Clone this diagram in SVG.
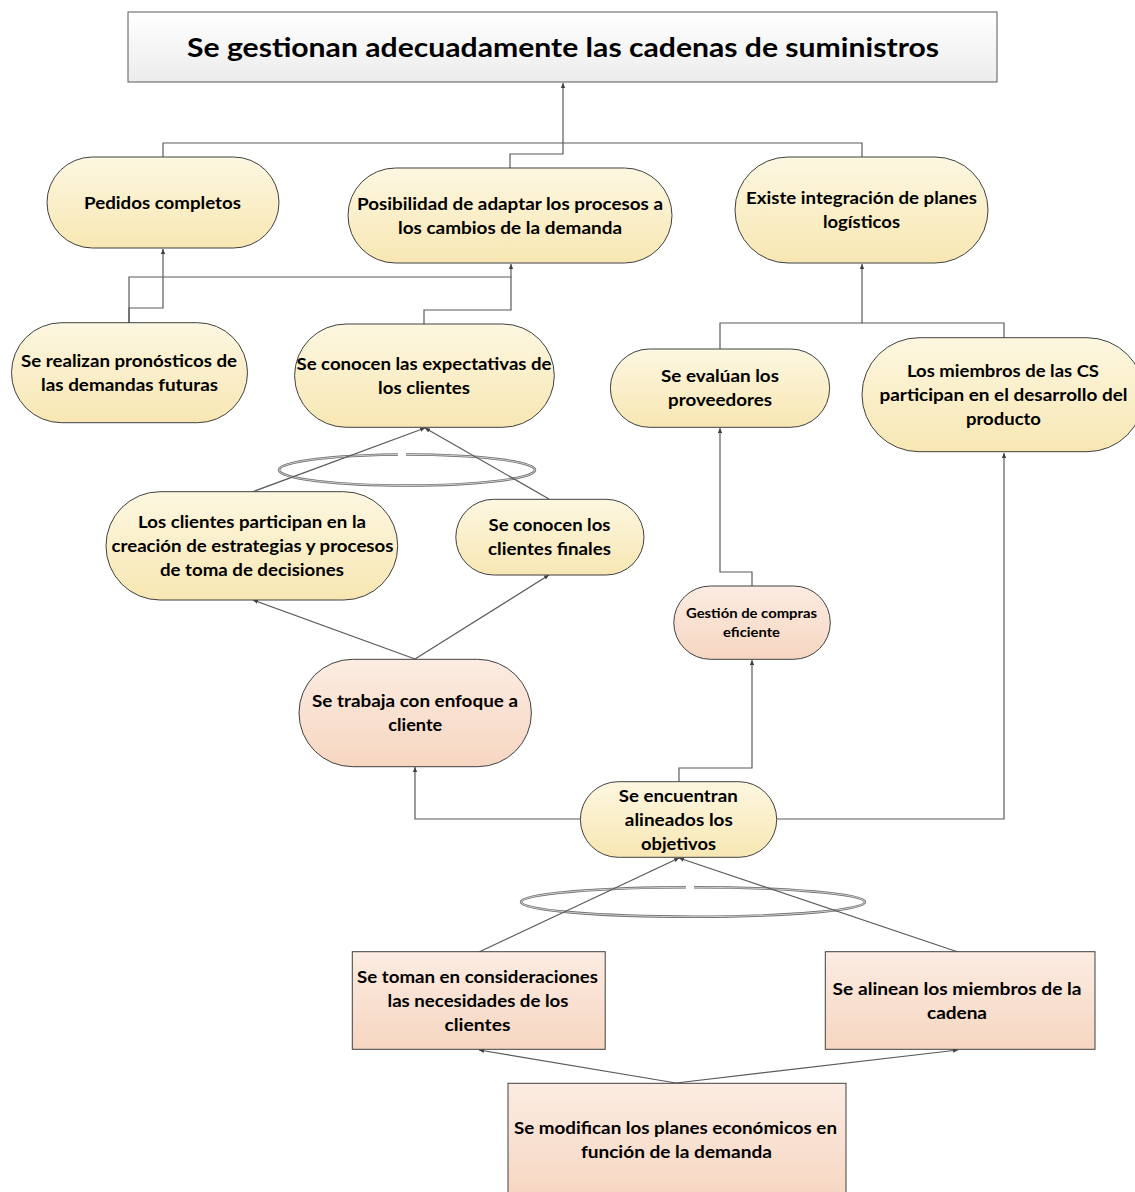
<svg xmlns="http://www.w3.org/2000/svg" width="1135" height="1192" viewBox="0 0 1135 1192">
<defs>
<linearGradient id="gy" x1="0" y1="0" x2="0" y2="1"><stop offset="0" stop-color="#fdf7e1"/><stop offset="1" stop-color="#f8e7b3"/></linearGradient>
<linearGradient id="gp" x1="0" y1="0" x2="0" y2="1"><stop offset="0" stop-color="#fcece2"/><stop offset="1" stop-color="#f6d6c1"/></linearGradient>
<linearGradient id="gg" x1="0" y1="0" x2="0" y2="1"><stop offset="0" stop-color="#ffffff"/><stop offset="1" stop-color="#ececec"/></linearGradient>
<marker id="ar" markerWidth="6" markerHeight="6" refX="5" refY="3" orient="auto" markerUnits="userSpaceOnUse"><path d="M0,0.8 L5,3 L0,5.2 Z" fill="#404040"/></marker>
<style>
.ny{fill:url(#gy);stroke:#404040;stroke-width:1}
.np{fill:url(#gp);stroke:#404040;stroke-width:1}
.ng{fill:url(#gg);stroke:#595959;stroke-width:1}
.t{font-family:Lato,"Liberation Sans",sans-serif;font-weight:bold;font-size:17px;fill:#000;text-anchor:middle}
.ts{font-size:13px}
.tt{font-size:27px}
.c{fill:none;stroke:#5a5a5a;stroke-width:1.2}
.ca{fill:none;stroke:#5a5a5a;stroke-width:1.2;marker-end:url(#ar)}
.el{fill:none;stroke:#6e6e6e;stroke-width:2.6}
.el2{fill:none;stroke:#e6e6e6;stroke-width:0.8}
</style>
</defs>
<g id="ellipses">
<ellipse class="el" cx="407" cy="470" rx="128" ry="15.5"/><ellipse class="el2" cx="407" cy="470" rx="128" ry="15.5"/>
<ellipse class="el" cx="693" cy="902" rx="172" ry="14.7"/><ellipse class="el2" cx="693" cy="902" rx="172" ry="14.7"/>
<rect x="398" y="452" width="8" height="4" fill="#fff"/>
<rect x="686" y="885" width="8" height="4" fill="#fff"/>
</g>
<g id="connectors">
<path class="ca" d="M510,168 V154 H563 V83"/>
<path class="c" d="M163,157 V143 H862 V157"/>
<path class="ca" d="M129,323 V308 H163 V249"/>
<path class="ca" d="M129,323 V277 H511 V264"/>
<path class="c" d="M424,324 V310 H511 V277"/>
<path class="ca" d="M720,349 V323 H862 V264"/>
<path class="c" d="M1004,338 V323 H862"/>
<path class="ca" d="M252,492 L425,428"/>
<path class="ca" d="M549,499 L425,428"/>
<path class="ca" d="M415,659 L253,600"/>
<path class="ca" d="M415,659 L549,575"/>
<path class="ca" d="M752,586 V572 H720 V428"/>
<path class="ca" d="M580,819 H415 V767"/>
<path class="ca" d="M679,782 V768 H752 V660"/>
<path class="ca" d="M777,819 H1004 V453"/>
<path class="ca" d="M479,952 L679,858"/>
<path class="ca" d="M958,952 L679,858"/>
<path class="ca" d="M676,1083 L479,1050"/>
<path class="ca" d="M676,1083 L958,1050"/>
</g>
<g id="n-title">
<rect class="ng" x="128" y="12" width="869" height="70"/>
<text class="t tt" x="563" y="57" textLength="752" lengthAdjust="spacingAndGlyphs">Se gestionan adecuadamente las cadenas de suministros</text>
</g>
<g id="n-pedidos">
<rect class="ny" x="47" y="157" width="232" height="91" rx="45.5"/>
<text class="t" x="162.5" y="209" textLength="157" lengthAdjust="spacingAndGlyphs">Pedidos completos</text>
</g>
<g id="n-posibilidad">
<rect class="ny" x="348" y="168" width="324" height="95" rx="47.5"/>
<text class="t" x="510" y="209.5" textLength="306" lengthAdjust="spacingAndGlyphs">Posibilidad de adaptar los procesos a</text>
<text class="t" x="510" y="233.5" textLength="224" lengthAdjust="spacingAndGlyphs">los cambios de la demanda</text>
</g>
<g id="n-existe">
<rect class="ny" x="735" y="157" width="253" height="106" rx="53"/>
<text class="t" x="861.5" y="204" textLength="231" lengthAdjust="spacingAndGlyphs">Existe integración de planes</text>
<text class="t" x="861.5" y="228" textLength="77" lengthAdjust="spacingAndGlyphs">logísticos</text>
</g>
<g id="n-realizan">
<rect class="ny" x="11.5" y="322.7" width="236" height="100" rx="50"/>
<text class="t" x="129" y="366.7" textLength="216" lengthAdjust="spacingAndGlyphs">Se realizan pronósticos de</text>
<text class="t" x="129.5" y="390.7" textLength="177" lengthAdjust="spacingAndGlyphs">las demandas futuras</text>
</g>
<g id="n-expectativas">
<rect class="ny" x="294.6" y="324" width="259.7" height="103.3" rx="51.6"/>
<text class="t" x="424" y="369.6" textLength="255" lengthAdjust="spacingAndGlyphs">Se conocen las expectativas de</text>
<text class="t" x="424" y="393.6" textLength="92" lengthAdjust="spacingAndGlyphs">los clientes</text>
</g>
<g id="n-evaluan">
<rect class="ny" x="610.4" y="349" width="219.2" height="78.3" rx="39"/>
<text class="t" x="720" y="382.2" textLength="118" lengthAdjust="spacingAndGlyphs">Se evalúan los</text>
<text class="t" x="720" y="406.2" textLength="104" lengthAdjust="spacingAndGlyphs">proveedores</text>
</g>
<g id="n-miembros">
<rect class="ny" x="862" y="337.7" width="282" height="114" rx="57"/>
<text class="t" x="1003" y="377" textLength="192" lengthAdjust="spacingAndGlyphs">Los miembros de las CS</text>
<text class="t" x="1003.5" y="401" textLength="248" lengthAdjust="spacingAndGlyphs">participan en el desarrollo del</text>
<text class="t" x="1003.5" y="425" textLength="75" lengthAdjust="spacingAndGlyphs">producto</text>
</g>
<g id="n-participan">
<rect class="ny" x="106" y="491.7" width="291.7" height="108.3" rx="54"/>
<text class="t" x="252" y="527.8" textLength="228" lengthAdjust="spacingAndGlyphs">Los clientes participan en la</text>
<text class="t" x="252.5" y="551.8" textLength="282" lengthAdjust="spacingAndGlyphs">creación de estrategias y procesos</text>
<text class="t" x="252" y="575.8" textLength="184" lengthAdjust="spacingAndGlyphs">de toma de decisiones</text>
</g>
<g id="n-finales">
<rect class="ny" x="455.8" y="499.3" width="188.2" height="75.7" rx="37.8"/>
<text class="t" x="549.5" y="531" textLength="122" lengthAdjust="spacingAndGlyphs">Se conocen los</text>
<text class="t" x="549.5" y="555" textLength="123" lengthAdjust="spacingAndGlyphs">clientes finales</text>
</g>
<g id="n-gestion">
<rect class="np" x="673.8" y="586" width="156.5" height="73.3" rx="36.6"/>
<text class="t ts" x="751.5" y="618" textLength="131" lengthAdjust="spacingAndGlyphs">Gestión de compras</text>
<text class="t ts" x="751.5" y="636.7" textLength="57" lengthAdjust="spacingAndGlyphs">eficiente</text>
</g>
<g id="n-trabaja">
<rect class="np" x="299" y="659.3" width="232.4" height="107.4" rx="53.7"/>
<text class="t" x="415" y="707" textLength="206" lengthAdjust="spacingAndGlyphs">Se trabaja con enfoque a</text>
<text class="t" x="415.3" y="731" textLength="54" lengthAdjust="spacingAndGlyphs">cliente</text>
</g>
<g id="n-encuentran">
<rect class="ny" x="580.4" y="781.7" width="196.3" height="75.6" rx="37.8"/>
<text class="t" x="678.2" y="801.5" textLength="119" lengthAdjust="spacingAndGlyphs">Se encuentran</text>
<text class="t" x="678.8" y="825.5" textLength="108" lengthAdjust="spacingAndGlyphs">alineados los</text>
<text class="t" x="678.5" y="849.5" textLength="75" lengthAdjust="spacingAndGlyphs">objetivos</text>
</g>
<g id="n-toman">
<rect class="np" x="352.3" y="951.7" width="252.9" height="97.6"/>
<text class="t" x="477.5" y="982.5" textLength="241" lengthAdjust="spacingAndGlyphs">Se toman en consideraciones</text>
<text class="t" x="478" y="1006.5" textLength="181" lengthAdjust="spacingAndGlyphs">las necesidades de los</text>
<text class="t" x="477.5" y="1030.5" textLength="66" lengthAdjust="spacingAndGlyphs">clientes</text>
</g>
<g id="n-alinean">
<rect class="np" x="825.3" y="951.7" width="269.7" height="97.6"/>
<text class="t" x="957.1" y="994.5" textLength="249" lengthAdjust="spacingAndGlyphs">Se alinean los miembros de la</text>
<text class="t" x="957" y="1018.5" textLength="60" lengthAdjust="spacingAndGlyphs">cadena</text>
</g>
<g id="n-modifican">
<rect class="np" x="508" y="1083.3" width="338" height="115"/>
<text class="t" x="675.5" y="1134" textLength="323" lengthAdjust="spacingAndGlyphs">Se modifican los planes económicos en</text>
<text class="t" x="676.4" y="1158" textLength="191" lengthAdjust="spacingAndGlyphs">función de la demanda</text>
</g>
</svg>
